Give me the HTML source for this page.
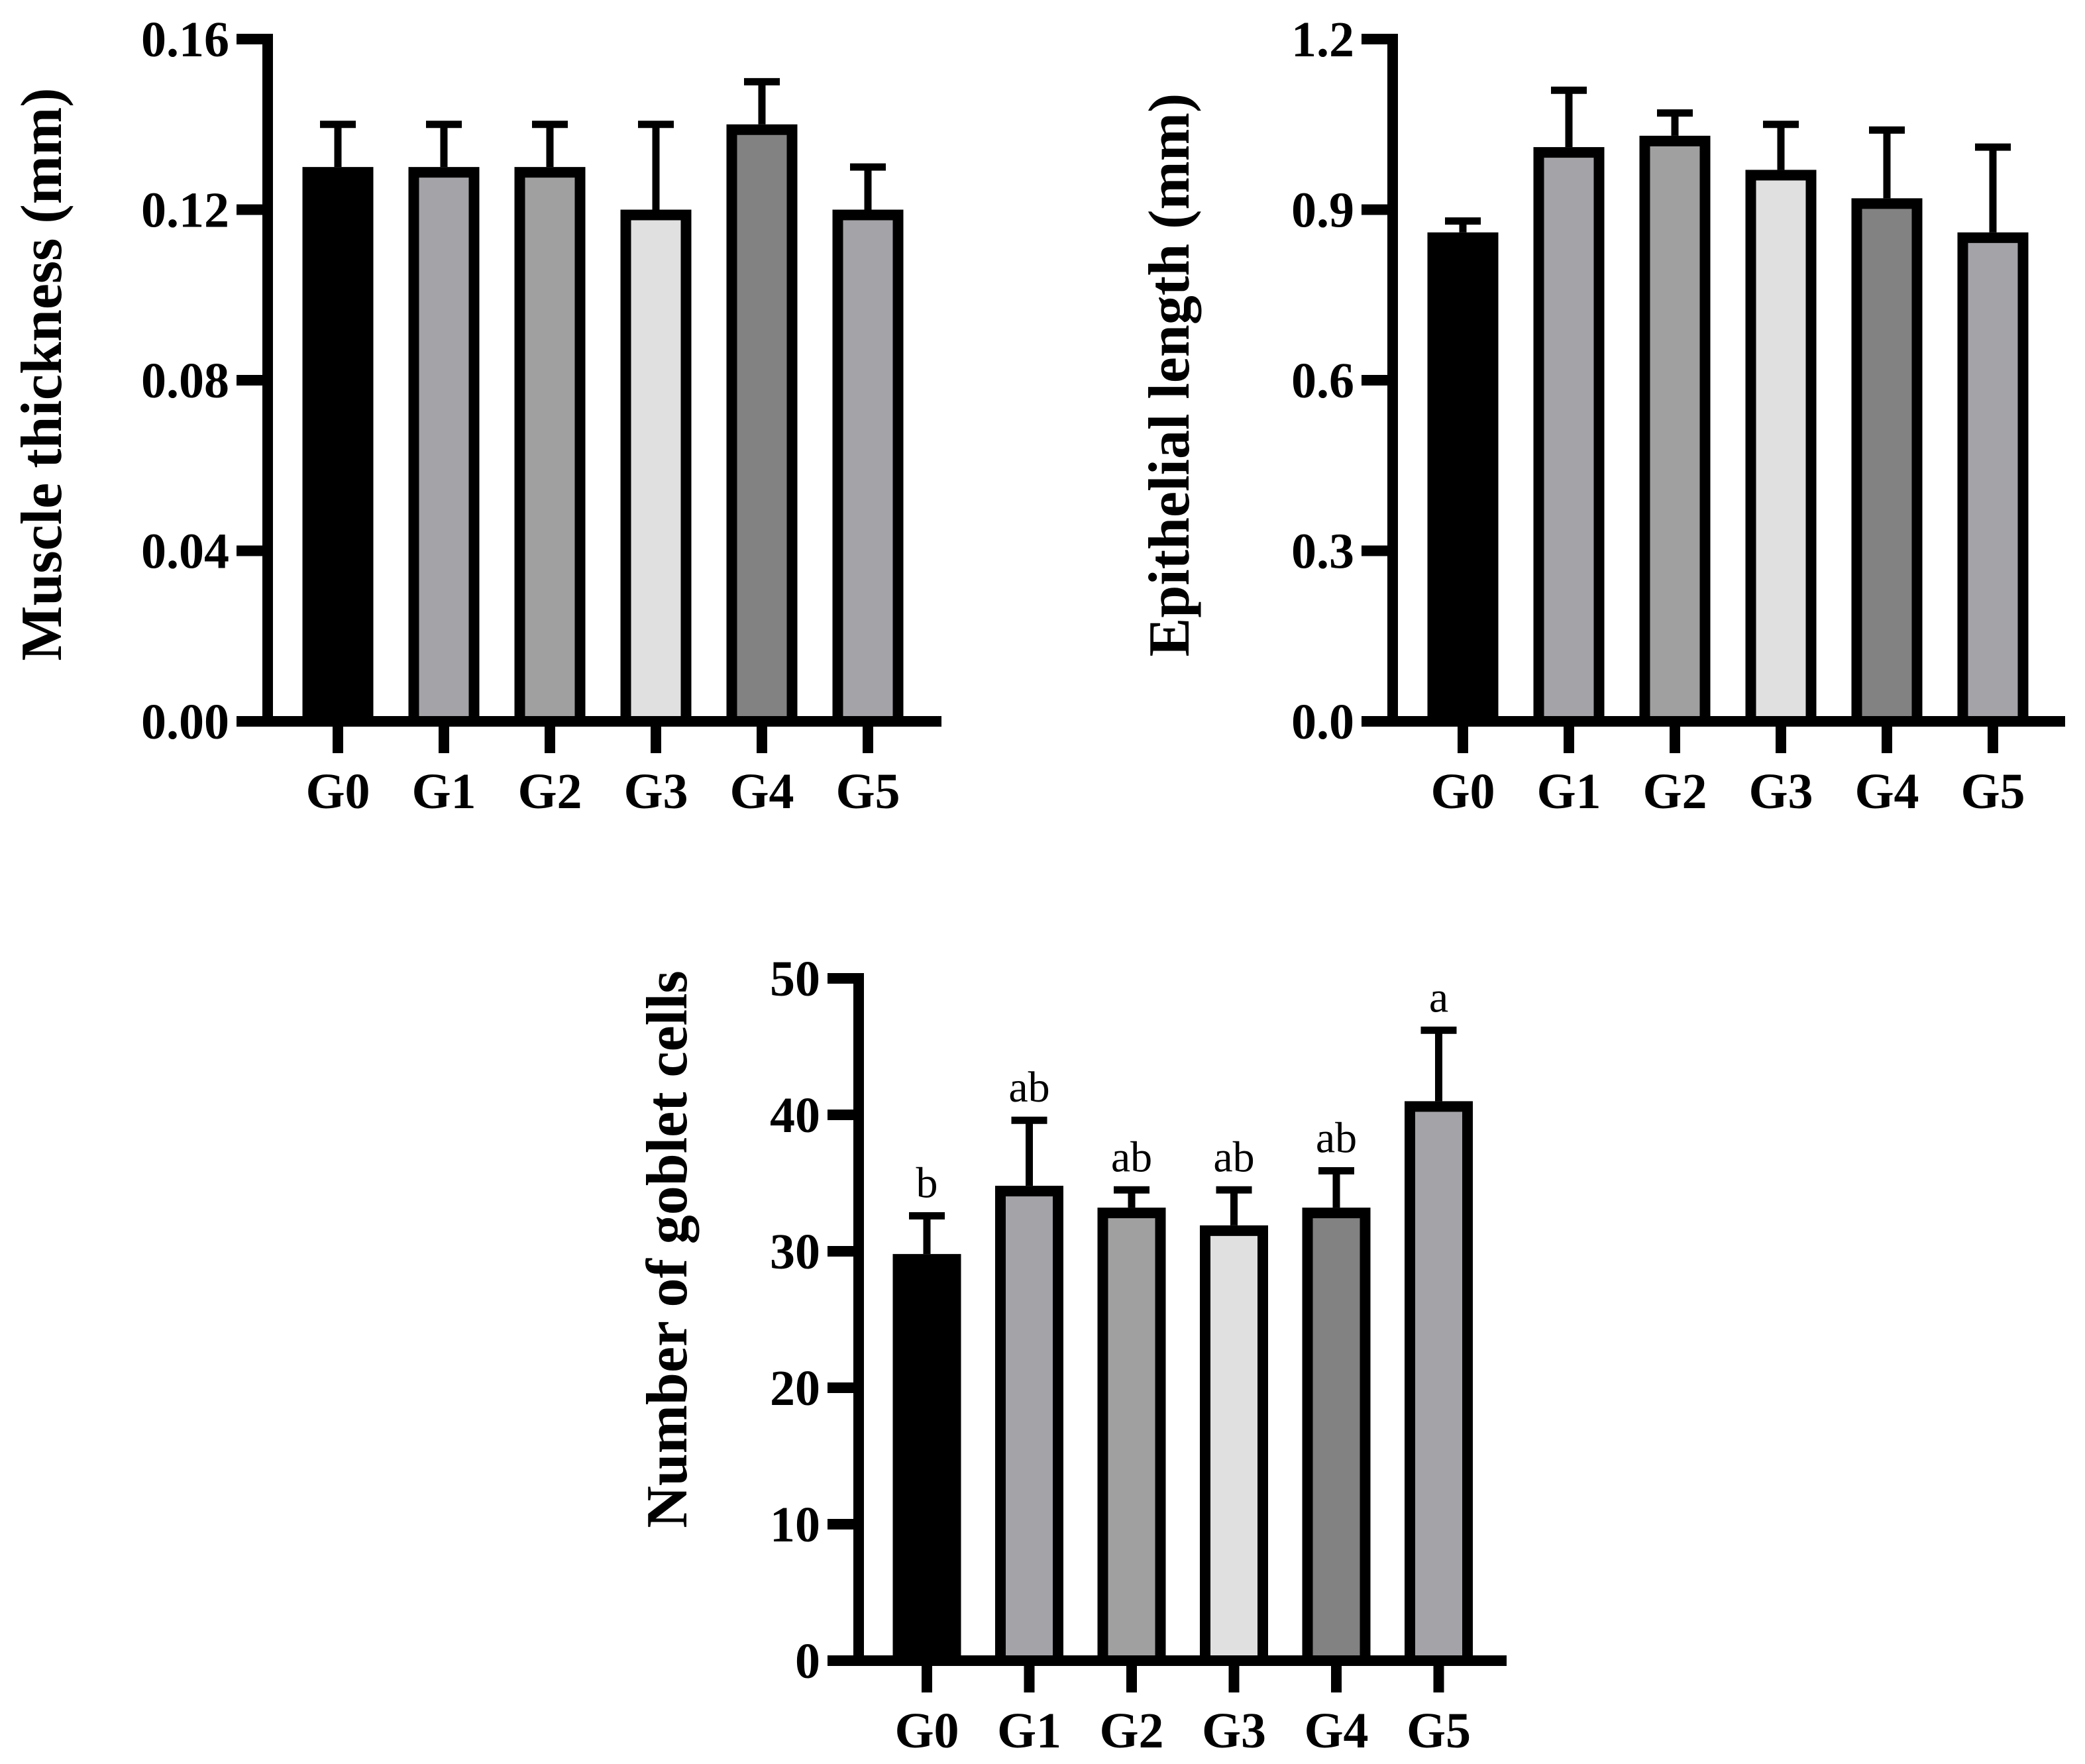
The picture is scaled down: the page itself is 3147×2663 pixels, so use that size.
<!DOCTYPE html>
<html><head><meta charset="utf-8"><style>
html,body{margin:0;padding:0;background:#fff;}
svg{display:block;}
text{font-family:"Liberation Serif","Times New Roman",serif;}
</style></head><body>
<svg id="fig" width="3147" height="2663" viewBox="0 0 3147 2663" xmlns="http://www.w3.org/2000/svg">
<rect width="3147" height="2663" fill="#fff"/>
</svg>
<script>
const categories = ["G0","G1","G2","G3","G4","G5"];
const colors = ["#000000","#a4a3a8","#a0a0a0","#e0e0e0","#828282","#a4a3a8"];
const muscleMeans = [0.13,0.13,0.13,0.12,0.14,0.12];
const muscleErr = [0.01,0.01,0.01,0.02,0.01,0.01];
const muscleTicks = ["0.00","0.04","0.08","0.12","0.16"];
const epiMeans = [0.86,1.01,1.03,0.97,0.92,0.86];
const epiErr = [0.02,0.10,0.04,0.08,0.12,0.15];
const epiTicks = ["0.0","0.3","0.6","0.9","1.2"];
const gobletMeans = [29.8,34.8,33.2,31.9,33.2,41.0];
const gobletErr = [2.8,4.8,1.3,2.6,2.7,5.2];
const gobletTicks = ["0","10","20","30","40","50"];
const gobletLetters = ["b","ab","ab","ab","ab","a"];

const NS="http://www.w3.org/2000/svg";
const svg=document.getElementById('fig');
function el(tag,attrs,parent){const e=document.createElementNS(NS,tag);for(const k in attrs)e.setAttribute(k,attrs[k]);(parent||svg).appendChild(e);return e;}

function chart(cfg){
  const g=el('g',{});
  
  
  const ticks=cfg.ticks.map(Number);
  const max=ticks[ticks.length-1];
  const yS=v=>cfg.y0-(v/max)*(cfg.y0-cfg.yTop);
  const xS=i=>cfg.c0+i*cfg.step;
  const bw=cfg.bw-16;
  cfg.means.forEach((m,i)=>{
    const cx=xS(i), top=yS(m), et=yS(m+cfg.err[i]);
    const st=el('rect',{x:cx-5.5,y:et,width:11,height:top-et,fill:'#000'},g);
    
    
    const cap=el('rect',{x:cx-27,y:et-5.5,width:54,height:11,fill:'#000'},g);
    
    
    const r=el('rect',{x:cx-bw/2,y:top+8,width:bw,height:cfg.y0-top-8,fill:colors[i],stroke:'#000','stroke-width':16},g);
    
    
    const tk=el('rect',{x:cx-8,y:cfg.y0,width:16,height:48,fill:'#000'},g);
    
    
    const lb=el('text',{x:cx,y:cfg.y0+131,'text-anchor':'middle','font-size':76,'font-weight':'bold',fill:'#000'},g);
    lb.textContent=categories[i];
    
    
    if(cfg.letters){
      const lt=el('text',{x:cx,y:et-28,'text-anchor':'middle','font-size':66,fill:'#000'},g);
      lt.textContent=cfg.letters[i];
      
      
    }
  });
  const ya=el('rect',{x:cfg.ax-8,y:cfg.yTop-8,width:16,height:cfg.y0-cfg.yTop+16,fill:'#000'},g);
  
  
  const xa=el('rect',{x:cfg.ax-8,y:cfg.y0-8,width:cfg.xEnd-cfg.ax+8,height:16,fill:'#000'},g);
  
  
  cfg.ticks.forEach(t=>{
    const y=yS(Number(t));
    const tk=el('rect',{x:cfg.ax-47,y:y-8,width:47,height:16,fill:'#000'},g);
    
    
    const tl=el('text',{x:cfg.ax-58,y:y+26,'text-anchor':'end','font-size':76,'font-weight':'bold',fill:'#000'},g);
    tl.textContent=t;
    
    
  });
  const tt=el('text',{x:0,y:0,'text-anchor':'middle','font-size':88,'font-weight':'bold',fill:'#000',transform:`translate(${cfg.titleX},${cfg.titleY}) rotate(-90)`},g);
  tt.textContent=cfg.title;
  
  
}

chart({name:'muscle-thickness-chart',means:muscleMeans,err:muscleErr,ticks:muscleTicks,ax:404,y0:1089,yTop:59,xEnd:1421,c0:510,step:160,bw:107,title:'Muscle thickness (mm)',titleX:92,titleY:565});
chart({name:'epithelial-length-chart',means:epiMeans,err:epiErr,ticks:epiTicks,ax:2102,y0:1089,yTop:59,xEnd:3117,c0:2208,step:160,bw:107,title:'Epithelial length (mm)',titleX:1794,titleY:566});
chart({name:'goblet-cells-chart',means:gobletMeans,err:gobletErr,ticks:gobletTicks,letters:gobletLetters,ax:1296,y0:2507,yTop:1477,xEnd:2274,c0:1399,step:154.5,bw:103,title:'Number of goblet cells',titleX:1036,titleY:1886});
</script>
</body></html>
